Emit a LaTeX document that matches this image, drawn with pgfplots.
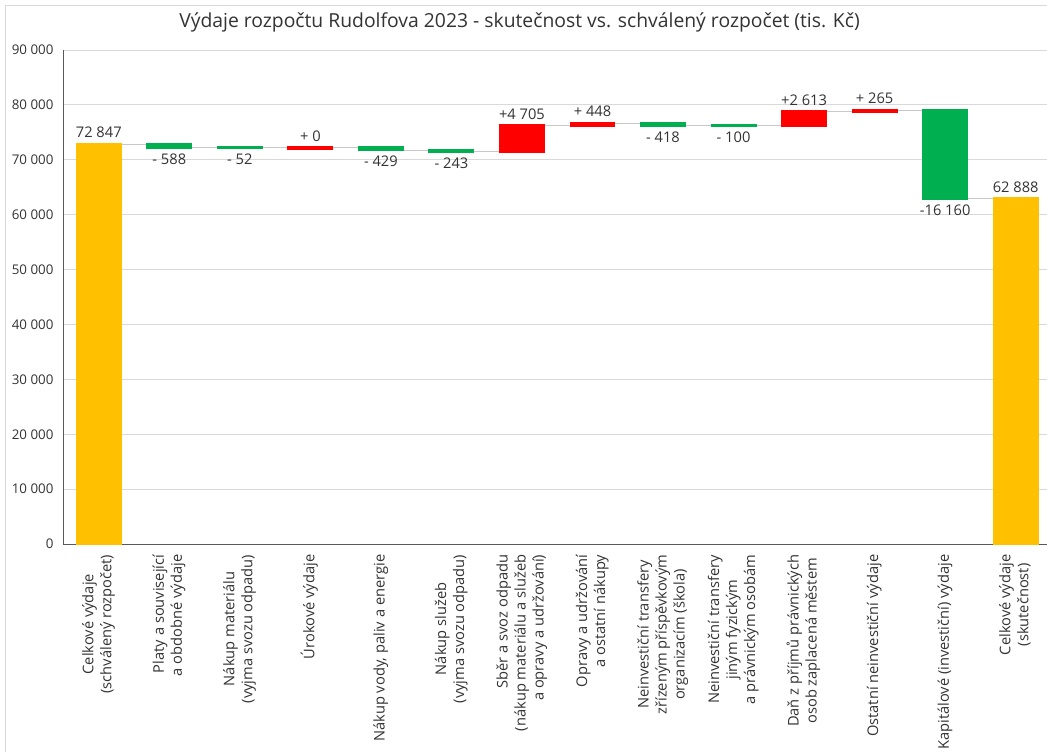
\documentclass[border=0pt]{standalone}
\usepackage{pgfplots}
\pgfplotsset{compat=1.18}
\usepackage{fontspec}
\setmainfont{Open Sans}
\definecolor{cyel}{HTML}{FFC000}
\definecolor{cgrn}{HTML}{00B050}
\definecolor{cred}{HTML}{FF0000}
\definecolor{cgrid}{HTML}{D9D9D9}
\definecolor{ctxt}{HTML}{333333}
\definecolor{caxis}{HTML}{595959}
\definecolor{cconn}{HTML}{C8C8C8}
\newcommand\lc[1]{\begin{tabular}{@{}c@{}}#1\end{tabular}}
\newcommand\lr[1]{\begin{tabular}{@{}r@{}}#1\end{tabular}}
\pgfplotsset{common/.style={scale only axis, width=740.6pt, height=370.5pt,
  xmin=-0.5, xmax=13.5, ymin=0, ymax=90000, at={(0pt,0pt)}, anchor=south west}}
\begin{document}
\begin{tikzpicture}
\useasboundingbox (-47.625pt,-155.25pt) rectangle (737.625pt,408pt);
\fill[white] (-47.625pt,-155.25pt) rectangle (737.625pt,408pt);
\draw[cgrid, line width=0.75pt] (-43.125pt,-156pt) -- (-43.125pt,403.5pt) -- (740pt,403.5pt);
\node[font=\fontsize{14.5}{17}\selectfont, text=ctxt] at (342pt,391.5pt)
  {Výdaje rozpočtu Rudolfova 2023 - skutečnost vs. schválený rozpočet (tis. Kč)};

\begin{axis}[common,
  axis lines=left, axis line style={-, draw=caxis, line width=0.75pt},
  ymajorgrids, grid style={draw=cgrid, line width=0.75pt},
  major tick length=0pt,
  ytick={0,10000,...,90000}, scaled y ticks=false,
  yticklabel style={font=\fontsize{10}{12}\selectfont, text=ctxt, xshift=-4pt,
    /pgf/number format/1000 sep={\ }, /pgf/number format/assume math mode=true},
  xtick={0,...,13},
  xticklabels={
    {\lc{Celkové výdaje\\(schválený rozpočet)}},
    {\lr{Platy a související\\a obdobné výdaje}},
    {\lc{Nákup materiálu\\(vyjma svozu odpadu)}},
    {\lc{Úrokové výdaje}},
    {\lc{Nákup vody, paliv a energie}},
    {\lc{Nákup služeb\\(vyjma svozu odpadu)}},
    {\lr{Sběr a svoz odpadu\\(nákup materiálu a služeb\\a opravy a udržování)}},
    {\lr{Opravy a udržování\\a ostatní nákupy}},
    {\lc{Neinvestiční transfery\\zřízeným příspěvkovým\\organizacím (škola)}},
    {\lc{Neinvestiční transfery\\jiným fyzickým\\a právnickým osobám}},
    {\lc{Daň z příjmů právnických\\osob zaplacená městem}},
    {\lc{Ostatní neinvestiční výdaje}},
    {\lc{Kapitálové (investiční) výdaje}},
    {\lc{Celkové výdaje\\(skutečnost)}}},
  xticklabel style={yshift=-4.5pt, rotate=90, anchor=east,
    font=\fontsize{11}{13.5}\selectfont, text=ctxt},
]
% connectors (running totals)
\addplot[const plot, draw=cconn, line width=0.75pt] coordinates {
  (0,72847) (1,72259) (2,72207) (3,72207) (4,71778) (5,71535) (6,76240)
  (7,76688) (8,76270) (9,76170) (10,78783) (11,79048) (12,62888) (13,62888)};
% totals
\addplot[ybar, bar width=32.25pt, fill=cyel, draw=cyel, line width=2.2pt]
  coordinates {(0,72847) (13,62888)};
% labels above
\addplot[draw=none, point meta=explicit symbolic, nodes near coords,
  every node near coord/.append style={anchor=south, yshift=1pt,
    font=\fontsize{11}{12}\selectfont, text=ctxt}]
  coordinates {(0,72847)[72 847] (3,72207)[+ 0] (6,76240)[+4 705]
    (7,76688)[+ 448] (10,78783)[+2 613] (11,79048)[+ 265] (13,62888)[62 888]};
% labels below
\addplot[draw=none, point meta=explicit symbolic, nodes near coords,
  every node near coord/.append style={anchor=north, yshift=-1pt,
    font=\fontsize{11}{12}\selectfont, text=ctxt}]
  coordinates {(1,72259)[- 588] (2,72207)[- 52] (4,71778)[- 429]
    (5,71535)[- 243] (8,76270)[- 418] (9,76170)[- 100] (12,62888)[-16 160]};
\end{axis}

% decreases (green)
\begin{axis}[common, hide axis, ybar stacked, bar width=32.25pt]
\addplot[draw=none, fill=none] coordinates {
  (1,72259) (2,72207) (4,71778) (5,71535) (8,76270) (9,76170) (12,62888)};
\addplot[fill=cgrn, draw=cgrn, line width=2.2pt] coordinates {
  (1,588) (2,52) (4,429) (5,243) (8,418) (9,100) (12,16160)};
\end{axis}

% increases (red)
\begin{axis}[common, hide axis, ybar stacked, bar width=32.25pt]
\addplot[draw=none, fill=none] coordinates {
  (3,72207) (6,71535) (7,76240) (10,76170) (11,78783)};
\addplot[fill=cred, draw=cred, line width=2.2pt] coordinates {
  (3,0) (6,4705) (7,448) (10,2613) (11,265)};
\end{axis}

% zero-height increase (Úrokové výdaje, +0) drawn as a flat bar
\begin{axis}[common, hide axis]
\addplot[only marks, mark=-, mark size=17.25pt, draw=cred,
  mark options={line width=3pt, draw=cred}] coordinates {(3,72207)};
\end{axis}
\end{tikzpicture}
\end{document}
